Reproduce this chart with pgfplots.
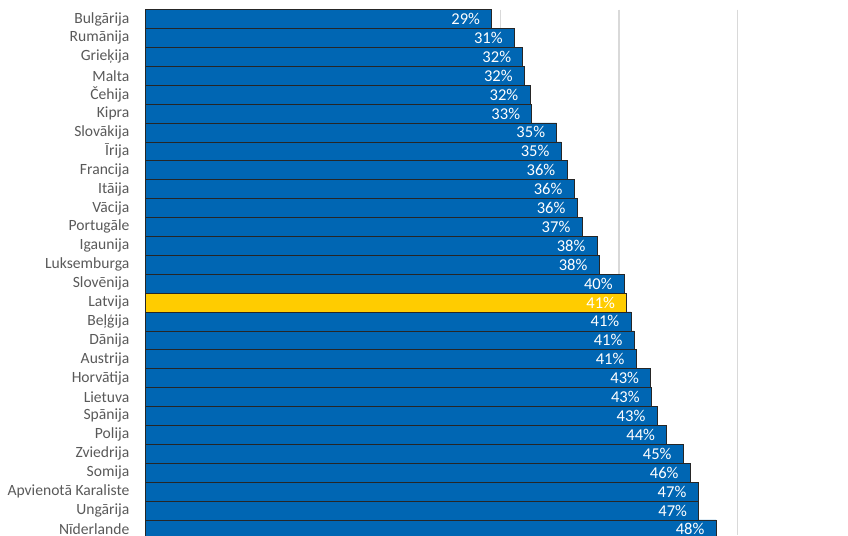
\documentclass[border=0pt]{standalone}
\usepackage{pgfplots}
\pgfplotsset{compat=1.18}
\usepackage{fontspec}
\setmainfont{Carlito}
\definecolor{barblue}{HTML}{0066B3}
\definecolor{latyellow}{HTML}{FFCC00}
\definecolor{labgray}{HTML}{595959}
\definecolor{gridgray}{HTML}{D9D9D9}
\begin{document}
\fontsize{11.7}{14}\selectfont
\begin{tikzpicture}
\begin{axis}[
  at={(0,0)}, anchor=south west,
  scale only axis,
  width=527.1pt, height=394.1pt,
  xbar, bar shift=0pt, bar width=1,
  xmin=0, xmax=59.31,
  ymin=-0.5, ymax=27.3,
  y dir=reverse,
  axis x line*=bottom,
  x axis line style={draw=none},
  axis y line*=left,
  y axis line style={gridgray, line width=0.8pt, -},
  xtick={10,20,30,40,50},
  xticklabels={},
  xmajorgrids,
  grid style={gridgray, line width=1.1pt},
  ytick={0,...,27},
  major tick length=0pt,
  yticklabels={Bulgārija, Rumānija, Grieķija, Malta, Čehija, Kipra, Slovākija, Īrija, Francija, Itāija, Vācija, Portugāle, Igaunija, Luksemburga, Slovēnija, Latvija, Beļģija, Dānija, Austrija, Horvātija, Lietuva, Spānija, Polija, Zviedrija, Somija, Apvienotā Karaliste, Ungārija, Nīderlande},
  yticklabel style={anchor=east, inner sep=0pt, xshift=-11.7pt, text=labgray, font=\fontsize{11.7}{14}\selectfont},
  point meta=x,
  nodes near coords={\pgfmathprintnumber[fixed,precision=0,assume math mode=true]{\pgfplotspointmeta}\%},
  every node near coord/.append style={anchor=east, inner sep=0pt, xshift=-8.5pt, text=white, font=\fontsize{12.4}{14}\selectfont},
]
\addplot[fill=barblue, draw=black!85, line width=0.5pt] coordinates {
(29.24,0) (31.15,1) (31.86,2) (31.99,3) (32.47,4) (32.62,5) (34.73,6)
(35.09,7) (35.59,8) (36.19,9) (36.44,10) (36.86,11) (38.13,12) (38.30,13)
(40.43,14) (40.99,16) (41.25,17) (41.42,18) (42.66,19) (42.71,20)
(43.19,21) (44.01,22) (45.40,23) (45.99,24) (46.65,25) (46.71,26) (48.17,27)
};
\addplot[fill=latyellow, draw=black!85, line width=0.5pt] coordinates {
(40.63,15)
};
\end{axis}
\pgfresetboundingbox
\path (-108.9pt,0pt) rectangle (527.1pt,401.25pt);
\end{tikzpicture}
\end{document}
